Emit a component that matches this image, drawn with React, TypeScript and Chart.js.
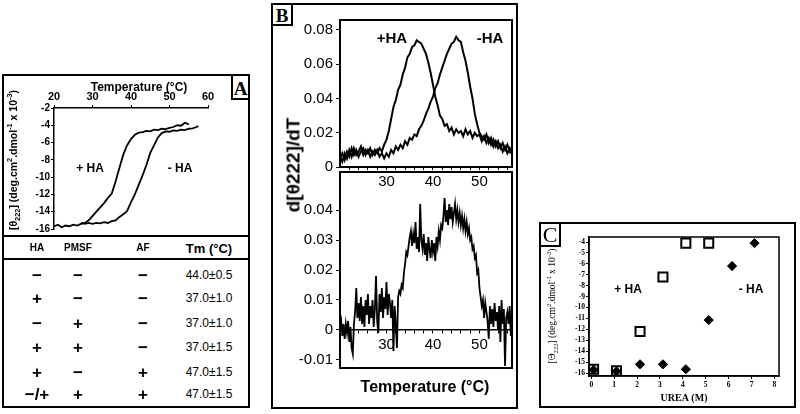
import React, { useEffect, useRef } from "react";
import { Chart, registerables } from "chart.js";
Chart.register(...registerables);

// ---------- Panel A data ----------
const aPlusT = [20, 21, 22, 23, 24, 25, 26, 27, 28, 29, 30, 31, 32, 33, 34, 35, 36, 37, 38, 39, 40, 41, 42, 43, 44, 45, 46, 47, 48, 49, 50, 51, 52, 53, 54, 55];
const aPlusV = [-15.7, -15.5, -15.8, -15.6, -15.7, -15.5, -15.6, -15.4, -15.3, -15.0, -14.5, -14.0, -13.5, -13.0, -12.4, -11.9, -10.5, -8.9, -7.4, -6.3, -5.6, -5.1, -4.85, -4.8, -4.65, -4.7, -4.5, -4.55, -4.4, -4.45, -4.3, -4.2, -4.0, -4.05, -3.7, -3.9];
const aMinusT = [27, 28, 29, 30, 31, 32, 33, 34, 35, 36, 37, 38, 39, 40, 41, 42, 43, 44, 45, 46, 47, 48, 49, 50, 51, 52, 53, 54, 55, 56, 57, 57.5];
const aMinusV = [-15.3, -15.4, -15.3, -15.4, -15.3, -15.35, -15.2, -15.3, -15.1, -15.0, -14.6, -14.3, -13.9, -12.9, -12.0, -10.9, -9.8, -8.6, -7.2, -6.3, -5.4, -4.9, -4.7, -4.75, -4.6, -4.65, -4.5, -4.55, -4.4, -4.35, -4.2, -4.1];
const aTempTicks = [20, 30, 40, 50, 60];
const aThetaTicks = [-16, -14, -12, -10, -8, -6, -4, -2];

// Table in panel A
const tableHeader = ["HA", "PMSF", "AF", "Tm (°C)"];
const haCol = ["−", "+", "−", "+", "+", "−/+"];
const pmsfCol = ["−", "−", "+", "+", "−", "+"];
const afCol = ["−", "−", "−", "−", "+", "+"];
const tmCol = ["44.0±0.5", "37.0±1.0", "37.0±1.0", "37.0±1.5", "47.0±1.5", "47.0±1.5"];

// ---------- Panel B data ----------
const bTemps = [20, 20.5, 21, 21.5, 22, 22.5, 23, 23.5, 24, 24.5, 25, 25.5, 26, 26.5, 27, 27.5, 28, 28.5, 29, 29.5, 30, 30.5, 31, 31.5, 32, 32.5, 33, 33.5, 34, 34.5, 35, 35.5, 36, 36.5, 37, 37.5, 38, 38.5, 39, 39.5, 40, 40.5, 41, 41.5, 42, 42.5, 43, 43.5, 44, 44.5, 45, 45.5, 46, 46.5, 47, 47.5, 48, 48.5, 49, 49.5, 50, 50.5, 51, 51.5, 52, 52.5, 53, 53.5, 54, 54.5, 55, 55.5, 56, 56.5, 57];
const bPlusHA = [0.006, 0.003, 0.008, 0.005, 0.010, 0.006, 0.011, 0.007, 0.009, 0.012, 0.007, 0.010, 0.008, 0.011, 0.007, 0.010, 0.008, 0.011, 0.009, 0.013, 0.016, 0.021, 0.028, 0.035, 0.039, 0.045, 0.048, 0.054, 0.058, 0.064, 0.066, 0.070, 0.071, 0.074, 0.073, 0.072, 0.069, 0.066, 0.061, 0.055, 0.048, 0.041, 0.036, 0.030, 0.028, 0.024, 0.025, 0.021, 0.023, 0.019, 0.022, 0.020, 0.021, 0.018, 0.022, 0.019, 0.021, 0.017, 0.020, 0.018, 0.019, 0.015, 0.018, 0.014, 0.017, 0.013, 0.016, 0.012, 0.015, 0.011, 0.014, 0.010, 0.013, 0.009, 0.011];
const bMinusHA = [0.005, 0.008, 0.004, 0.009, 0.006, 0.011, 0.007, 0.010, 0.006, 0.009, 0.011, 0.007, 0.010, 0.006, 0.009, 0.007, 0.010, 0.006, 0.008, 0.005, 0.008, 0.006, 0.010, 0.008, 0.012, 0.010, 0.013, 0.011, 0.015, 0.013, 0.017, 0.016, 0.019, 0.018, 0.022, 0.024, 0.027, 0.031, 0.034, 0.038, 0.041, 0.046, 0.049, 0.054, 0.058, 0.062, 0.066, 0.069, 0.072, 0.073, 0.076, 0.074, 0.073, 0.067, 0.062, 0.055, 0.047, 0.040, 0.031, 0.025, 0.020, 0.018, 0.016, 0.019, 0.014, 0.017, 0.012, 0.015, 0.011, 0.013, 0.009, 0.012, 0.008, 0.011, 0.007];
const bDiffTemps = [20, 20.25, 20.5, 20.75, 21, 21.25, 21.5, 21.75, 22, 22.25, 22.5, 22.75, 23, 23.25, 23.5, 23.75, 24, 24.25, 24.5, 24.75, 25, 25.25, 25.5, 25.75, 26, 26.25, 26.5, 26.75, 27, 27.25, 27.5, 27.75, 28, 28.25, 28.5, 28.75, 29, 29.25, 29.5, 29.75, 30, 30.25, 30.5, 30.75, 31, 31.25, 31.5, 31.75, 32, 32.25, 32.5, 32.75, 33, 33.25, 33.5, 33.75, 34, 34.25, 34.5, 34.75, 35, 35.25, 35.5, 35.75, 36, 36.25, 36.5, 36.75, 37, 37.25, 37.5, 37.75, 38, 38.25, 38.5, 38.75, 39, 39.25, 39.5, 39.75, 40, 40.25, 40.5, 40.75, 41, 41.25, 41.5, 41.75, 42, 42.25, 42.5, 42.75, 43, 43.25, 43.5, 43.75, 44, 44.25, 44.5, 44.75, 45, 45.25, 45.5, 45.75, 46, 46.25, 46.5, 46.75, 47, 47.25, 47.5, 47.75, 48, 48.25, 48.5, 48.75, 49, 49.25, 49.5, 49.75, 50, 50.25, 50.5, 50.75, 51, 51.25, 51.5, 51.75, 52, 52.25, 52.5, 52.75, 53, 53.25, 53.5, 53.75, 54, 54.25, 54.5, 54.75, 55, 55.25, 55.5, 55.75, 56, 56.25, 56.5, 56.75, 57];
const bDiff = [
  0.001, 0.003, -0.002, 0.002,
  -0.003, 0.002, -0.001, 0.003,
  -0.004, 0.001, -0.006, -0.008,
  0.002, 0.006, 0.014, 0.004,
  0.009, 0.003, 0.011, 0.002,
  0.008, 0.001, 0.010, 0.005,
  0.012, 0.002, 0.008, 0.004,
  0.010, 0.001, 0.007, 0.018,
  0.003, -0.001, 0.012, 0.006,
  0.014, 0.004, 0.011, 0.007,
  0.016, 0.005, 0.012, 0.009,
  0.004, 0.010, -0.007, 0.008,
  0.002, -0.006, 0.011, 0.013,
  0.012, 0.015, 0.014, 0.019,
  0.022, 0.026, 0.025, 0.028,
  0.031, 0.033, 0.028, 0.032,
  0.029, 0.036, 0.027, 0.031,
  0.026, 0.042, 0.030, 0.027,
  0.032, 0.025, 0.029, 0.023,
  0.031, 0.027, 0.024, 0.030,
  0.026, 0.029, 0.023, 0.031,
  0.028, 0.033, 0.030, 0.035,
  0.034, 0.038, 0.044, 0.036,
  0.040, 0.035, 0.042, 0.037,
  0.041, 0.036, 0.039, 0.042,
  0.037, 0.040, 0.036, 0.039,
  0.035, 0.038, 0.034, 0.037,
  0.033, 0.036, 0.032, 0.034,
  0.030, 0.031, 0.027, 0.028,
  0.024, 0.025, 0.019, 0.020,
  0.014, 0.011, 0.008, 0.010,
  0.004, 0.009, 0.006, 0.003,
  -0.003, 0.008, 0.002, 0.007,
  0.001, 0.009, 0.003, 0.006,
  0.000, 0.008, -0.004, 0.010,
  0.002, 0.007, -0.012, 0.004,
  0.006, 0.002, 0.008, -0.002,
  0.004,
];
const bTempTicks = [22, 24, 26, 28, 30, 32, 34, 36, 38, 40, 42, 44, 46, 48, 50, 52, 54, 56];
const bTopTicks = [0, 0.02, 0.04, 0.06, 0.08];
const bBottomTicks = [-0.01, 0, 0.01, 0.02, 0.03, 0.04];

// ---------- Panel C data ----------
const ureaPlusHA = [0.1, 1.1, 2.13, 3.13, 4.13, 5.13];
const thetaPlusHA = [-15.65, -15.8, -12.2, -7.2, -4.1, -4.1];
const ureaMinusHA = [0.1, 1.1, 2.13, 3.13, 4.13, 5.13, 6.15, 7.13];
const thetaMinusHA = [-15.7, -15.85, -15.2, -15.2, -15.65, -11.15, -6.2, -4.1];
const cUreaTicks = [0, 1, 2, 3, 4, 5, 6, 7, 8];
const cThetaTicks = [-16, -15, -14, -13, -12, -11, -10, -9, -8, -7, -6, -5, -4];

// ---------- helpers ----------
const SANS = "'Liberation Sans', Arial, Helvetica, sans-serif";
const SERIF = "'Liberation Serif', 'Times New Roman', Times, serif";

const framePlugin = {
  id: "frame",
  afterDraw(chart: any, _args: any, opts: any) {
    if (!opts || !opts.show) return;
    const { ctx, chartArea } = chart;
    ctx.save();
    ctx.strokeStyle = "#000";
    ctx.lineWidth = opts.width || 1.5;
    ctx.strokeRect(chartArea.left, chartArea.top, chartArea.right - chartArea.left, chartArea.bottom - chartArea.top);
    ctx.restore();
  },
};

const setTicks = (vals: number[]) => (scale: any) => {
  scale.ticks = vals.map((v) => ({ value: v }));
};

const pts = (xs: number[], ys: number[]) => xs.map((x, i) => ({ x, y: ys[i] }));

const lineDs = (xs: number[], ys: number[], w = 1.5) => ({
  data: pts(xs, ys),
  borderColor: "#000",
  borderWidth: w,
  pointRadius: 0,
  tension: 0,
  fill: false,
});

const axisGrid = (len: number) => ({
  display: true,
  drawOnChartArea: false,
  drawTicks: true,
  tickLength: len,
  color: "#000",
  lineWidth: 1,
});

const baseOpts = (padding: any, frame: any) => ({
  responsive: false,
  maintainAspectRatio: false,
  animation: false,
  devicePixelRatio: 1,
  events: [],
  layout: { padding },
  plugins: { legend: { display: false }, tooltip: { enabled: false }, frame },
});

const bLabel = (v: number) => (v === 0 ? "0" : Number(v).toFixed(2));

function ChartCanvas({ left, top, width, height, config }: any) {
  const ref = useRef<HTMLCanvasElement | null>(null);
  useEffect(() => {
    const chart = new Chart(ref.current as HTMLCanvasElement, { ...config, plugins: [framePlugin] });
    return () => chart.destroy();
  }, []);
  return (
    <canvas
      ref={ref}
      width={width}
      height={height}
      style={{ position: "absolute", left, top, width, height }}
    />
  );
}

function Txt({ x, y, children, style, rotate }: any) {
  return (
    <div
      style={{
        position: "absolute",
        left: x,
        top: y,
        transform: `translate(-50%,-50%)${rotate ? " rotate(-90deg)" : ""}`,
        whiteSpace: "nowrap",
        lineHeight: 1,
        color: "#000",
        ...style,
      }}
    >
      {children}
    </div>
  );
}

const subStyle: any = { fontSize: "70%", verticalAlign: "sub", lineHeight: 0 };
const supStyle: any = { fontSize: "70%", verticalAlign: "super", lineHeight: 0 };

function Box({ left, top, width, height, w = 2 }: any) {
  return (
    <div
      style={{
        position: "absolute",
        left,
        top,
        width,
        height,
        boxSizing: "border-box",
        border: `${w}px solid #000`,
      }}
    />
  );
}

// ---------- chart configs ----------
const configA: any = {
  type: "line",
  data: { datasets: [lineDs(aPlusT, aPlusV, 1.8), lineDs(aMinusT, aMinusV, 1.8)] },
  options: {
    ...baseOpts({ left: 0, top: 0, right: 41, bottom: 5 }, { show: false }),
    scales: {
      x: {
        type: "linear",
        position: "top",
        min: 20,
        max: 60,
        afterBuildTicks: setTicks(aTempTicks),
        afterFit: (s: any) => { s.height = 32; },
        ticks: { color: "#000", font: { family: SANS, size: 11, weight: "bold" }, padding: 1, maxRotation: 0, autoSkip: false },
        grid: axisGrid(3),
        border: { display: true, color: "#000", width: 1.5 },
      },
      y: {
        type: "linear",
        min: -16,
        max: -2,
        afterBuildTicks: setTicks(aThetaTicks),
        afterFit: (s: any) => { s.width = 50; },
        ticks: { color: "#000", font: { family: SANS, size: 10, weight: "bold" }, padding: 1, autoSkip: false },
        grid: axisGrid(3),
        border: { display: true, color: "#000", width: 1.5 },
      },
    },
  },
};

const configBTop: any = {
  type: "line",
  data: { datasets: [lineDs(bTemps, bPlusHA, 2), lineDs(bTemps, bMinusHA, 2)] },
  options: {
    ...baseOpts({ left: 0, top: 15, right: 4, bottom: 0 }, { show: true, width: 2 }),
    scales: {
      x: {
        type: "linear",
        position: "bottom",
        min: 20,
        max: 57,
        afterBuildTicks: setTicks(bTempTicks),
        afterFit: (s: any) => { s.height = 33; },
        ticks: {
          color: "#000",
          font: { family: SANS, size: 15 },
          padding: 3,
          maxRotation: 0,
          autoSkip: false,
          callback: (v: number) => (v % 10 === 0 ? String(v) : ""),
        },
        grid: axisGrid(3),
        border: { display: true, color: "#000", width: 1.5 },
      },
      y: {
        type: "linear",
        min: 0,
        max: 0.0858,
        afterBuildTicks: setTicks(bTopTicks),
        afterFit: (s: any) => { s.width = 67; },
        ticks: { color: "#000", font: { family: SANS, size: 15 }, padding: 3, autoSkip: false, callback: bLabel },
        grid: axisGrid(4),
        border: { display: true, color: "#000", width: 2 },
      },
    },
  },
};

const configBBottom: any = {
  type: "line",
  data: { datasets: [lineDs(bDiffTemps, bDiff, 1.8)] },
  options: {
    ...baseOpts({ left: 0, top: 7, right: 4, bottom: 38 }, { show: true, width: 2 }),
    scales: {
      x: {
        type: "linear",
        position: { y: 0 },
        min: 20,
        max: 57,
        afterBuildTicks: setTicks(bTempTicks),
        ticks: {
          color: "#000",
          font: { family: SANS, size: 15 },
          padding: 3,
          maxRotation: 0,
          autoSkip: false,
          callback: (v: number) => (v % 10 === 0 ? String(v) : ""),
        },
        grid: axisGrid(3),
        border: { display: true, color: "#000", width: 1.5 },
      },
      y: {
        type: "linear",
        min: -0.0127,
        max: 0.0527,
        afterBuildTicks: setTicks(bBottomTicks),
        afterFit: (s: any) => { s.width = 67; },
        ticks: { color: "#000", font: { family: SANS, size: 15 }, padding: 3, autoSkip: false, callback: bLabel },
        grid: axisGrid(4),
        border: { display: true, color: "#000", width: 2 },
      },
    },
  },
};

const configC: any = {
  type: "scatter",
  data: {
    datasets: [
      {
        data: pts(ureaPlusHA, thetaPlusHA),
        pointStyle: "rect",
        pointRadius: 6.4,
        borderWidth: 2,
        borderColor: "#000",
        backgroundColor: "rgba(0,0,0,0)",
      },
      {
        data: pts(ureaMinusHA, thetaMinusHA),
        pointStyle: "rectRot",
        pointRadius: 4.6,
        borderWidth: 1,
        borderColor: "#000",
        backgroundColor: "#000",
      },
    ],
  },
  options: {
    ...baseOpts({ left: 0, top: 13, right: 16, bottom: 0 }, { show: true, width: 1.5 }),
    scales: {
      x: {
        type: "linear",
        position: "bottom",
        min: -0.1,
        max: 8.2,
        afterBuildTicks: setTicks(cUreaTicks),
        afterFit: (s: any) => { s.height = 30; },
        ticks: { color: "#000", font: { family: SERIF, size: 7.5, weight: "bold" }, padding: 2, maxRotation: 0, autoSkip: false },
        grid: axisGrid(3),
        border: { display: true, color: "#000", width: 1.5 },
        title: {
          display: true,
          text: "UREA (M)",
          color: "#000",
          font: { family: SERIF, size: 10, weight: "bold" },
          padding: { top: 0, bottom: 2 },
        },
      },
      y: {
        type: "linear",
        min: -16.27,
        max: -3.54,
        afterBuildTicks: setTicks(cThetaTicks),
        afterFit: (s: any) => { s.width = 48; },
        ticks: { color: "#000", font: { family: SERIF, size: 7.5, weight: "bold" }, padding: 1, autoSkip: false },
        grid: axisGrid(3),
        border: { display: true, color: "#000", width: 1.5 },
      },
    },
  },
};

const rowY = [275, 298, 323, 347, 372, 394];

export default function App() {
  useEffect(() => {
    document.body.style.margin = "0";
    document.body.style.background = "#fff";
  }, []);

  const bold = (size: number, family = SANS) => ({ fontFamily: family, fontSize: size, fontWeight: "bold" });

  return (
    <div style={{ position: "relative", width: 800, height: 414, background: "#fff", overflow: "hidden" }}>
      {/* ---------- Panel A ---------- */}
      <Box left={2} top={74} width={248} height={334} />
      <div style={{ position: "absolute", left: 2, top: 235, width: 248, height: 2, background: "#000" }} />
      <div style={{ position: "absolute", left: 2, top: 258, width: 248, height: 2, background: "#000" }} />
      <Box left={231} top={74} width={19} height={26} />
      <Txt x={240.5} y={88} style={bold(19, SERIF)}>A</Txt>
      <ChartCanvas left={4} top={76} width={245} height={160} config={configA} />
      <Txt x={139} y={87} style={bold(12)}>Temperature (°C)</Txt>
      <Txt x={13} y={160} rotate style={bold(10.5)}>
        [θ<span style={subStyle}>222</span>] (deg.cm<span style={supStyle}>2</span>.dmol<span style={supStyle}>-1</span> x 10<span style={supStyle}>-3</span>)
      </Txt>
      <Txt x={90} y={168} style={bold(12)}>+ HA</Txt>
      <Txt x={180} y={168} style={bold(12)}>- HA</Txt>

      <Txt x={37} y={248} style={bold(10)}>{tableHeader[0]}</Txt>
      <Txt x={78} y={248} style={bold(10)}>{tableHeader[1]}</Txt>
      <Txt x={143} y={248} style={bold(10)}>{tableHeader[2]}</Txt>
      <Txt x={209} y={248} style={bold(13)}>{tableHeader[3]}</Txt>
      {rowY.map((y, i) => (
        <React.Fragment key={i}>
          <Txt x={37} y={y} style={bold(17)}>{haCol[i]}</Txt>
          <Txt x={78} y={y} style={bold(17)}>{pmsfCol[i]}</Txt>
          <Txt x={143} y={y} style={bold(17)}>{afCol[i]}</Txt>
          <Txt x={209} y={y} style={{ fontFamily: SANS, fontSize: 12 }}>{tmCol[i]}</Txt>
        </React.Fragment>
      ))}

      {/* ---------- Panel B ---------- */}
      <Box left={271} top={3} width={247} height={406} />
      <Box left={271} top={3} width={22} height={23} />
      <Txt x={282} y={15} style={bold(19, SERIF)}>B</Txt>
      <ChartCanvas left={273} top={5} width={243} height={195} config={configBTop} />
      <ChartCanvas left={273} top={160} width={243} height={246} config={configBBottom} />
      <Txt x={293} y={165} rotate style={bold(19)}>d[θ222]/dT</Txt>
      <Txt x={425} y={387} style={bold(16)}>Temperature (°C)</Txt>
      <Txt x={392} y={37} style={bold(15)}>+HA</Txt>
      <Txt x={490} y={37} style={bold(15)}>-HA</Txt>

      {/* ---------- Panel C ---------- */}
      <Box left={539} top={222} width={257} height={186} />
      <Box left={539} top={222} width={22} height={25} />
      <Txt x={550} y={235} style={{ fontFamily: SERIF, fontSize: 22 }}>C</Txt>
      <ChartCanvas left={541} top={224} width={254} height={182} config={configC} />
      <Txt x={553} y={306} rotate style={{ fontFamily: SERIF, fontSize: 9.5 }}>
        [Θ<span style={subStyle}>222</span>] (deg.cm<span style={supStyle}>2</span>.dmol<span style={supStyle}>-1</span> x 10<span style={supStyle}>-3</span>)
      </Txt>
      <Txt x={628} y={289} style={bold(12)}>+ HA</Txt>
      <Txt x={751} y={289} style={bold(12)}>- HA</Txt>
    </div>
  );
}
